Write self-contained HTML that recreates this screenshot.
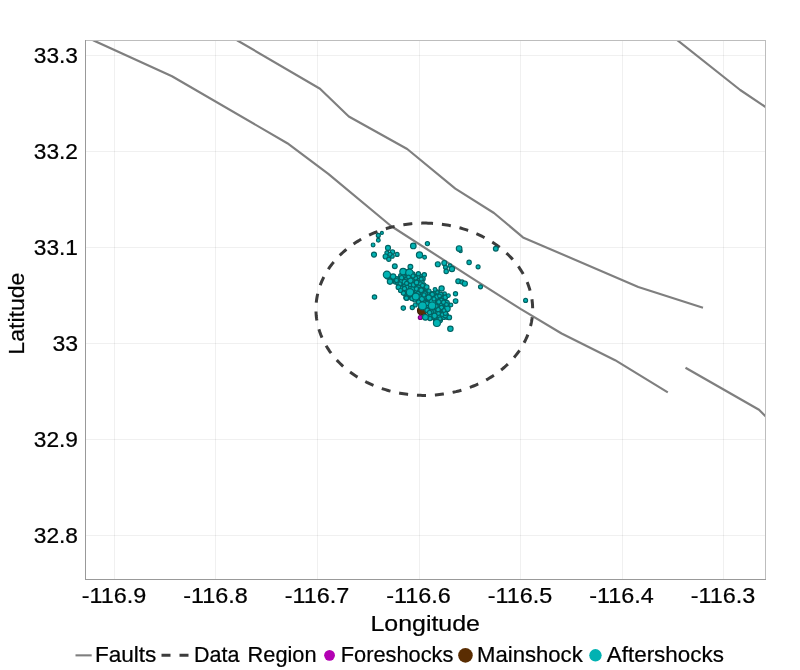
<!DOCTYPE html>
<html><head><meta charset="utf-8"><title>Map</title>
<style>
html,body{margin:0;padding:0;background:#fff;}
body{width:800px;height:670px;overflow:hidden;font-family:"Liberation Sans",sans-serif;}
svg{display:block;}
text{font-family:"Liberation Sans",sans-serif;fill:#000;stroke:#000;stroke-width:0.22px;}
.tick text{font-size:21.2px;}
.ttl text{font-size:21.2px;}
.leg text{font-size:21.2px;}
</style></head><body>
<svg width="800" height="670" viewBox="0 0 800 670" style="will-change:transform;opacity:0.999">
<rect width="800" height="670" fill="#fff"/>
<defs><clipPath id="pc"><rect x="85" y="40" width="681" height="540"/></clipPath></defs>
<g stroke="#000" stroke-opacity="0.06" stroke-width="1" shape-rendering="crispEdges"><line x1="114.5" y1="40" x2="114.5" y2="579" /><line x1="215.5" y1="40" x2="215.5" y2="579" /><line x1="317.5" y1="40" x2="317.5" y2="579" /><line x1="419.0" y1="40" x2="419.0" y2="579" /><line x1="520.5" y1="40" x2="520.5" y2="579" /><line x1="622.0" y1="40" x2="622.0" y2="579" /><line x1="723.5" y1="40" x2="723.5" y2="579" /><line x1="85" y1="55.5" x2="766" y2="55.5" /><line x1="85" y1="151.5" x2="766" y2="151.5" /><line x1="85" y1="247.5" x2="766" y2="247.5" /><line x1="85" y1="343.5" x2="766" y2="343.5" /><line x1="85" y1="439.5" x2="766" y2="439.5" /><line x1="85" y1="535.5" x2="766" y2="535.5" /></g>
<g clip-path="url(#pc)">
<g fill="none" stroke="#7f7f7f" stroke-width="2.15" stroke-linejoin="round"><polyline points="93.0,40.2 172.0,76.3 287.3,143.2 328.3,173.8 391.0,226.0 470.0,276.9 520.5,308.8 561.6,333.5 615.1,360.2 667.8,392.4"/><polyline points="237.0,40.2 320.0,88.8 348.8,116.5 407.2,149.0 455.3,188.6 494.0,213.0 523.0,237.4 638.3,287.0 703.0,307.8"/><polyline points="675.5,38.7 740.2,90.0 766.0,107.3"/><polyline points="685.5,367.7 759.0,409.7 766.0,416.8"/></g>
<path d="M424.30 223.10 L426.19 223.11 L428.08 223.15 L429.97 223.22 L431.86 223.31 L433.74 223.43 L435.63 223.57 L437.50 223.74 L439.38 223.94 L441.25 224.16 L443.11 224.41 L444.97 224.68 L446.83 224.98 L448.67 225.31 L450.51 225.66 L452.34 226.04 L454.17 226.44 L455.98 226.86 L457.78 227.32 L459.58 227.79 L461.36 228.30 L463.13 228.82 L464.89 229.37 L466.64 229.95 L468.37 230.55 L470.09 231.17 L471.80 231.82 L473.49 232.49 L475.17 233.18 L476.83 233.90 L478.48 234.64 L480.10 235.41 L481.72 236.19 L483.31 237.00 L484.89 237.83 L486.45 238.68 L487.99 239.55 L489.51 240.45 L491.01 241.36 L492.49 242.30 L493.95 243.26 L495.38 244.23 L496.80 245.23 L498.19 246.24 L499.57 247.28 L500.92 248.33 L502.24 249.41 L503.54 250.50 L504.82 251.60 L506.07 252.73 L507.30 253.87 L508.50 255.03 L509.68 256.21 L510.83 257.40 L511.96 258.61 L513.06 259.84 L514.13 261.08 L515.17 262.33 L516.19 263.60 L517.17 264.88 L518.13 266.18 L519.07 267.48 L519.97 268.81 L520.84 270.14 L521.68 271.48 L522.50 272.84 L523.28 274.21 L524.04 275.59 L524.76 276.98 L525.45 278.38 L526.12 279.78 L526.75 281.20 L527.35 282.63 L527.92 284.06 L528.45 285.50 L528.96 286.95 L529.43 288.41 L529.87 289.87 L530.28 291.34 L530.66 292.81 L531.00 294.29 L531.32 295.77 L531.60 297.26 L531.84 298.75 L532.06 300.24 L532.24 301.74 L532.39 303.24 L532.50 304.74 L532.58 306.24 L532.63 307.75 L532.65 309.25 L532.63 310.75 L532.58 312.26 L532.50 313.76 L532.39 315.26 L532.24 316.76 L532.06 318.26 L531.84 319.75 L531.60 321.24 L531.32 322.73 L531.00 324.21 L530.66 325.69 L530.28 327.16 L529.87 328.63 L529.43 330.09 L528.96 331.55 L528.45 333.00 L527.92 334.44 L527.35 335.87 L526.75 337.30 L526.12 338.72 L525.45 340.12 L524.76 341.52 L524.04 342.91 L523.28 344.29 L522.50 345.66 L521.68 347.02 L520.84 348.36 L519.97 349.69 L519.07 351.02 L518.13 352.32 L517.17 353.62 L516.19 354.90 L515.17 356.17 L514.13 357.42 L513.06 358.66 L511.96 359.89 L510.83 361.10 L509.68 362.29 L508.50 363.47 L507.30 364.63 L506.07 365.77 L504.82 366.90 L503.54 368.00 L502.24 369.09 L500.92 370.17 L499.57 371.22 L498.19 372.26 L496.80 373.27 L495.38 374.27 L493.95 375.24 L492.49 376.20 L491.01 377.14 L489.51 378.05 L487.99 378.95 L486.45 379.82 L484.89 380.67 L483.31 381.50 L481.72 382.31 L480.10 383.09 L478.48 383.86 L476.83 384.60 L475.17 385.32 L473.49 386.01 L471.80 386.68 L470.09 387.33 L468.37 387.95 L466.64 388.55 L464.89 389.13 L463.13 389.68 L461.36 390.20 L459.58 390.71 L457.78 391.18 L455.98 391.64 L454.17 392.06 L452.34 392.46 L450.51 392.84 L448.67 393.19 L446.83 393.52 L444.97 393.82 L443.11 394.09 L441.25 394.34 L439.38 394.56 L437.50 394.76 L435.63 394.93 L433.74 395.07 L431.86 395.19 L429.97 395.28 L428.08 395.35 L426.19 395.39 L424.30 395.40 L422.41 395.39 L420.52 395.35 L418.63 395.28 L416.74 395.19 L414.86 395.07 L412.97 394.93 L411.10 394.76 L409.22 394.56 L407.35 394.34 L405.49 394.09 L403.63 393.82 L401.77 393.52 L399.93 393.19 L398.09 392.84 L396.26 392.46 L394.43 392.06 L392.62 391.64 L390.82 391.18 L389.02 390.71 L387.24 390.20 L385.47 389.68 L383.71 389.13 L381.96 388.55 L380.23 387.95 L378.51 387.33 L376.80 386.68 L375.11 386.01 L373.43 385.32 L371.77 384.60 L370.12 383.86 L368.50 383.09 L366.88 382.31 L365.29 381.50 L363.71 380.67 L362.15 379.82 L360.61 378.95 L359.09 378.05 L357.59 377.14 L356.11 376.20 L354.65 375.24 L353.22 374.27 L351.80 373.27 L350.41 372.26 L349.03 371.22 L347.68 370.17 L346.36 369.09 L345.06 368.00 L343.78 366.90 L342.53 365.77 L341.30 364.63 L340.10 363.47 L338.92 362.29 L337.77 361.10 L336.64 359.89 L335.54 358.66 L334.47 357.42 L333.43 356.17 L332.41 354.90 L331.43 353.62 L330.47 352.33 L329.53 351.02 L328.63 349.69 L327.76 348.36 L326.92 347.02 L326.10 345.66 L325.32 344.29 L324.56 342.91 L323.84 341.52 L323.15 340.12 L322.48 338.72 L321.85 337.30 L321.25 335.87 L320.68 334.44 L320.15 333.00 L319.64 331.55 L319.17 330.09 L318.73 328.63 L318.32 327.16 L317.94 325.69 L317.60 324.21 L317.28 322.73 L317.00 321.24 L316.76 319.75 L316.54 318.26 L316.36 316.76 L316.21 315.26 L316.10 313.76 L316.02 312.26 L315.97 310.75 L315.95 309.25 L315.97 307.75 L316.02 306.24 L316.10 304.74 L316.21 303.24 L316.36 301.74 L316.54 300.24 L316.76 298.75 L317.00 297.26 L317.28 295.77 L317.60 294.29 L317.94 292.81 L318.32 291.34 L318.73 289.87 L319.17 288.41 L319.64 286.95 L320.15 285.50 L320.68 284.06 L321.25 282.63 L321.85 281.20 L322.48 279.78 L323.15 278.38 L323.84 276.98 L324.56 275.59 L325.32 274.21 L326.10 272.84 L326.92 271.48 L327.76 270.14 L328.63 268.81 L329.53 267.48 L330.47 266.18 L331.43 264.88 L332.41 263.60 L333.43 262.33 L334.47 261.08 L335.54 259.84 L336.64 258.61 L337.77 257.40 L338.92 256.21 L340.10 255.03 L341.30 253.87 L342.53 252.73 L343.78 251.60 L345.06 250.50 L346.36 249.41 L347.68 248.33 L349.03 247.28 L350.41 246.24 L351.80 245.23 L353.22 244.23 L354.65 243.26 L356.11 242.30 L357.59 241.36 L359.09 240.45 L360.61 239.55 L362.15 238.68 L363.71 237.83 L365.29 237.00 L366.88 236.19 L368.50 235.41 L370.12 234.64 L371.77 233.90 L373.43 233.18 L375.11 232.49 L376.80 231.82 L378.51 231.17 L380.23 230.55 L381.96 229.95 L383.71 229.37 L385.47 228.82 L387.24 228.30 L389.02 227.79 L390.82 227.32 L392.62 226.86 L394.43 226.44 L396.26 226.04 L398.09 225.66 L399.93 225.31 L401.77 224.98 L403.63 224.68 L405.49 224.41 L407.35 224.16 L409.22 223.94 L411.10 223.74 L412.97 223.57 L414.86 223.43 L416.74 223.31 L418.63 223.22 L420.52 223.15 L422.41 223.11 L424.30 223.10 " fill="none" stroke="#3c3c3c" stroke-width="3" stroke-dasharray="9.05 8.898" stroke-dashoffset="0.3"/>
<circle cx="422.2" cy="310.5" r="4.7" fill="#5c2c06" stroke="#3a1b02" stroke-width="1.15"/>
<circle cx="420.3" cy="317.5" r="2.0" fill="#c000c0" stroke="#7a007a" stroke-width="1.15"/>
<circle cx="410.4" cy="296.8" r="2.1" fill="#00b3b3" stroke="#006363" stroke-width="1.15"/>
<circle cx="421.2" cy="293.7" r="2.2" fill="#00b3b3" stroke="#006363" stroke-width="1.15"/>
<circle cx="436.5" cy="314.2" r="2.0" fill="#00b3b3" stroke="#006363" stroke-width="1.15"/>
<circle cx="406.0" cy="285.6" r="2.1" fill="#00b3b3" stroke="#006363" stroke-width="1.15"/>
<circle cx="420.7" cy="299.3" r="2.4" fill="#00b3b3" stroke="#006363" stroke-width="1.15"/>
<circle cx="432.1" cy="313.6" r="2.5" fill="#00b3b3" stroke="#006363" stroke-width="1.15"/>
<circle cx="428.8" cy="308.4" r="2.9" fill="#00b3b3" stroke="#006363" stroke-width="1.15"/>
<circle cx="439.8" cy="314.8" r="2.2" fill="#00b3b3" stroke="#006363" stroke-width="1.15"/>
<circle cx="436.4" cy="307.8" r="2.1" fill="#00b3b3" stroke="#006363" stroke-width="1.15"/>
<circle cx="447.2" cy="317.1" r="2.4" fill="#00b3b3" stroke="#006363" stroke-width="1.15"/>
<circle cx="393.0" cy="279.4" r="2.3" fill="#00b3b3" stroke="#006363" stroke-width="1.15"/>
<circle cx="433.6" cy="298.9" r="2.2" fill="#00b3b3" stroke="#006363" stroke-width="1.15"/>
<circle cx="423.6" cy="297.2" r="2.9" fill="#00b3b3" stroke="#006363" stroke-width="1.15"/>
<circle cx="403.6" cy="274.0" r="2.9" fill="#00b3b3" stroke="#006363" stroke-width="1.15"/>
<circle cx="442.4" cy="297.5" r="2.3" fill="#00b3b3" stroke="#006363" stroke-width="1.15"/>
<circle cx="387.9" cy="276.4" r="2.7" fill="#00b3b3" stroke="#006363" stroke-width="1.15"/>
<circle cx="419.5" cy="290.8" r="2.1" fill="#00b3b3" stroke="#006363" stroke-width="1.15"/>
<circle cx="417.1" cy="278.8" r="2.4" fill="#00b3b3" stroke="#006363" stroke-width="1.15"/>
<circle cx="439.6" cy="320.0" r="2.9" fill="#00b3b3" stroke="#006363" stroke-width="1.15"/>
<circle cx="417.6" cy="293.5" r="2.9" fill="#00b3b3" stroke="#006363" stroke-width="1.15"/>
<circle cx="434.4" cy="293.5" r="2.2" fill="#00b3b3" stroke="#006363" stroke-width="1.15"/>
<circle cx="416.0" cy="284.8" r="2.2" fill="#00b3b3" stroke="#006363" stroke-width="1.15"/>
<circle cx="400.8" cy="275.7" r="2.2" fill="#00b3b3" stroke="#006363" stroke-width="1.15"/>
<circle cx="409.3" cy="284.5" r="2.7" fill="#00b3b3" stroke="#006363" stroke-width="1.15"/>
<circle cx="427.8" cy="293.8" r="2.5" fill="#00b3b3" stroke="#006363" stroke-width="1.15"/>
<circle cx="419.2" cy="280.0" r="2.2" fill="#00b3b3" stroke="#006363" stroke-width="1.15"/>
<circle cx="430.7" cy="311.5" r="2.7" fill="#00b3b3" stroke="#006363" stroke-width="1.15"/>
<circle cx="404.1" cy="276.5" r="2.1" fill="#00b3b3" stroke="#006363" stroke-width="1.15"/>
<circle cx="420.1" cy="303.0" r="2.0" fill="#00b3b3" stroke="#006363" stroke-width="1.15"/>
<circle cx="402.9" cy="285.2" r="2.3" fill="#00b3b3" stroke="#006363" stroke-width="1.15"/>
<circle cx="431.1" cy="305.3" r="2.4" fill="#00b3b3" stroke="#006363" stroke-width="1.15"/>
<circle cx="402.4" cy="279.2" r="2.5" fill="#00b3b3" stroke="#006363" stroke-width="1.15"/>
<circle cx="390.6" cy="279.0" r="2.1" fill="#00b3b3" stroke="#006363" stroke-width="1.15"/>
<circle cx="433.8" cy="305.1" r="2.3" fill="#00b3b3" stroke="#006363" stroke-width="1.15"/>
<circle cx="395.5" cy="281.9" r="2.2" fill="#00b3b3" stroke="#006363" stroke-width="1.15"/>
<circle cx="407.9" cy="271.5" r="2.1" fill="#00b3b3" stroke="#006363" stroke-width="1.15"/>
<circle cx="407.0" cy="273.5" r="2.5" fill="#00b3b3" stroke="#006363" stroke-width="1.15"/>
<circle cx="433.0" cy="296.5" r="2.2" fill="#00b3b3" stroke="#006363" stroke-width="1.15"/>
<circle cx="409.7" cy="291.6" r="2.7" fill="#00b3b3" stroke="#006363" stroke-width="1.15"/>
<circle cx="421.0" cy="276.7" r="2.3" fill="#00b3b3" stroke="#006363" stroke-width="1.15"/>
<circle cx="430.6" cy="317.2" r="2.7" fill="#00b3b3" stroke="#006363" stroke-width="1.15"/>
<circle cx="404.9" cy="287.4" r="2.9" fill="#00b3b3" stroke="#006363" stroke-width="1.15"/>
<circle cx="419.9" cy="285.5" r="2.7" fill="#00b3b3" stroke="#006363" stroke-width="1.15"/>
<circle cx="447.7" cy="306.3" r="2.1" fill="#00b3b3" stroke="#006363" stroke-width="1.15"/>
<circle cx="412.2" cy="290.2" r="2.9" fill="#00b3b3" stroke="#006363" stroke-width="1.15"/>
<circle cx="399.5" cy="278.9" r="2.5" fill="#00b3b3" stroke="#006363" stroke-width="1.15"/>
<circle cx="401.3" cy="281.8" r="2.9" fill="#00b3b3" stroke="#006363" stroke-width="1.15"/>
<circle cx="423.7" cy="287.5" r="2.4" fill="#00b3b3" stroke="#006363" stroke-width="1.15"/>
<circle cx="424.0" cy="305.6" r="2.1" fill="#00b3b3" stroke="#006363" stroke-width="1.15"/>
<circle cx="443.0" cy="302.5" r="2.7" fill="#00b3b3" stroke="#006363" stroke-width="1.15"/>
<circle cx="441.9" cy="313.5" r="2.1" fill="#00b3b3" stroke="#006363" stroke-width="1.15"/>
<circle cx="408.0" cy="276.2" r="2.9" fill="#00b3b3" stroke="#006363" stroke-width="1.15"/>
<circle cx="412.8" cy="297.5" r="2.9" fill="#00b3b3" stroke="#006363" stroke-width="1.15"/>
<circle cx="411.2" cy="293.6" r="2.4" fill="#00b3b3" stroke="#006363" stroke-width="1.15"/>
<circle cx="428.3" cy="299.7" r="2.0" fill="#00b3b3" stroke="#006363" stroke-width="1.15"/>
<circle cx="438.6" cy="302.2" r="2.9" fill="#00b3b3" stroke="#006363" stroke-width="1.15"/>
<circle cx="411.7" cy="275.9" r="2.0" fill="#00b3b3" stroke="#006363" stroke-width="1.15"/>
<circle cx="391.9" cy="277.1" r="2.2" fill="#00b3b3" stroke="#006363" stroke-width="1.15"/>
<circle cx="414.9" cy="288.9" r="2.9" fill="#00b3b3" stroke="#006363" stroke-width="1.15"/>
<circle cx="441.1" cy="310.8" r="2.9" fill="#00b3b3" stroke="#006363" stroke-width="1.15"/>
<circle cx="440.6" cy="316.4" r="2.3" fill="#00b3b3" stroke="#006363" stroke-width="1.15"/>
<circle cx="414.1" cy="294.3" r="2.4" fill="#00b3b3" stroke="#006363" stroke-width="1.15"/>
<circle cx="417.1" cy="296.4" r="2.1" fill="#00b3b3" stroke="#006363" stroke-width="1.15"/>
<circle cx="436.3" cy="296.8" r="2.7" fill="#00b3b3" stroke="#006363" stroke-width="1.15"/>
<circle cx="443.7" cy="317.5" r="2.0" fill="#00b3b3" stroke="#006363" stroke-width="1.15"/>
<circle cx="444.6" cy="300.5" r="2.2" fill="#00b3b3" stroke="#006363" stroke-width="1.15"/>
<circle cx="423.8" cy="299.9" r="2.2" fill="#00b3b3" stroke="#006363" stroke-width="1.15"/>
<circle cx="414.5" cy="281.9" r="2.9" fill="#00b3b3" stroke="#006363" stroke-width="1.15"/>
<circle cx="444.2" cy="305.1" r="2.1" fill="#00b3b3" stroke="#006363" stroke-width="1.15"/>
<circle cx="432.4" cy="302.9" r="2.5" fill="#00b3b3" stroke="#006363" stroke-width="1.15"/>
<circle cx="432.1" cy="307.8" r="2.7" fill="#00b3b3" stroke="#006363" stroke-width="1.15"/>
<circle cx="399.3" cy="284.7" r="2.5" fill="#00b3b3" stroke="#006363" stroke-width="1.15"/>
<circle cx="422.5" cy="278.8" r="2.7" fill="#00b3b3" stroke="#006363" stroke-width="1.15"/>
<circle cx="440.6" cy="305.3" r="2.3" fill="#00b3b3" stroke="#006363" stroke-width="1.15"/>
<circle cx="410.4" cy="282.7" r="2.3" fill="#00b3b3" stroke="#006363" stroke-width="1.15"/>
<circle cx="422.7" cy="302.5" r="2.0" fill="#00b3b3" stroke="#006363" stroke-width="1.15"/>
<circle cx="436.2" cy="319.8" r="2.9" fill="#00b3b3" stroke="#006363" stroke-width="1.15"/>
<circle cx="446.5" cy="303.3" r="2.9" fill="#00b3b3" stroke="#006363" stroke-width="1.15"/>
<circle cx="428.1" cy="305.2" r="2.4" fill="#00b3b3" stroke="#006363" stroke-width="1.15"/>
<circle cx="440.7" cy="300.3" r="2.5" fill="#00b3b3" stroke="#006363" stroke-width="1.15"/>
<circle cx="417.2" cy="282.8" r="2.7" fill="#00b3b3" stroke="#006363" stroke-width="1.15"/>
<circle cx="423.4" cy="290.2" r="2.5" fill="#00b3b3" stroke="#006363" stroke-width="1.15"/>
<circle cx="437.2" cy="323.1" r="2.3" fill="#00b3b3" stroke="#006363" stroke-width="1.15"/>
<circle cx="437.2" cy="305.2" r="2.3" fill="#00b3b3" stroke="#006363" stroke-width="1.15"/>
<circle cx="437.5" cy="300.0" r="2.2" fill="#00b3b3" stroke="#006363" stroke-width="1.15"/>
<circle cx="406.7" cy="297.4" r="2.9" fill="#00b3b3" stroke="#006363" stroke-width="1.15"/>
<circle cx="417.8" cy="299.2" r="2.3" fill="#00b3b3" stroke="#006363" stroke-width="1.15"/>
<circle cx="426.7" cy="290.4" r="2.3" fill="#00b3b3" stroke="#006363" stroke-width="1.15"/>
<circle cx="406.5" cy="279.3" r="2.0" fill="#00b3b3" stroke="#006363" stroke-width="1.15"/>
<circle cx="431.8" cy="293.8" r="2.2" fill="#00b3b3" stroke="#006363" stroke-width="1.15"/>
<circle cx="423.3" cy="285.6" r="2.9" fill="#00b3b3" stroke="#006363" stroke-width="1.15"/>
<circle cx="419.2" cy="296.2" r="2.1" fill="#00b3b3" stroke="#006363" stroke-width="1.15"/>
<circle cx="407.5" cy="287.4" r="2.4" fill="#00b3b3" stroke="#006363" stroke-width="1.15"/>
<circle cx="412.9" cy="274.0" r="2.1" fill="#00b3b3" stroke="#006363" stroke-width="1.15"/>
<circle cx="445.9" cy="307.7" r="2.5" fill="#00b3b3" stroke="#006363" stroke-width="1.15"/>
<circle cx="430.0" cy="296.4" r="2.0" fill="#00b3b3" stroke="#006363" stroke-width="1.15"/>
<circle cx="436.8" cy="302.3" r="2.1" fill="#00b3b3" stroke="#006363" stroke-width="1.15"/>
<circle cx="431.7" cy="299.1" r="2.7" fill="#00b3b3" stroke="#006363" stroke-width="1.15"/>
<circle cx="429.3" cy="302.3" r="2.0" fill="#00b3b3" stroke="#006363" stroke-width="1.15"/>
<circle cx="425.5" cy="297.2" r="2.0" fill="#00b3b3" stroke="#006363" stroke-width="1.15"/>
<circle cx="437.3" cy="293.2" r="2.3" fill="#00b3b3" stroke="#006363" stroke-width="1.15"/>
<circle cx="396.0" cy="279.3" r="2.7" fill="#00b3b3" stroke="#006363" stroke-width="1.15"/>
<circle cx="404.8" cy="293.6" r="2.0" fill="#00b3b3" stroke="#006363" stroke-width="1.15"/>
<circle cx="408.4" cy="283.1" r="2.0" fill="#00b3b3" stroke="#006363" stroke-width="1.15"/>
<circle cx="439.7" cy="296.2" r="2.1" fill="#00b3b3" stroke="#006363" stroke-width="1.15"/>
<circle cx="421.5" cy="288.3" r="2.3" fill="#00b3b3" stroke="#006363" stroke-width="1.15"/>
<circle cx="413.0" cy="278.7" r="2.3" fill="#00b3b3" stroke="#006363" stroke-width="1.15"/>
<circle cx="424.6" cy="293.2" r="2.9" fill="#00b3b3" stroke="#006363" stroke-width="1.15"/>
<circle cx="440.7" cy="294.4" r="2.3" fill="#00b3b3" stroke="#006363" stroke-width="1.15"/>
<circle cx="433.6" cy="311.6" r="2.2" fill="#00b3b3" stroke="#006363" stroke-width="1.15"/>
<circle cx="421.4" cy="282.4" r="2.7" fill="#00b3b3" stroke="#006363" stroke-width="1.15"/>
<circle cx="413.1" cy="285.0" r="2.4" fill="#00b3b3" stroke="#006363" stroke-width="1.15"/>
<circle cx="438.4" cy="317.2" r="2.5" fill="#00b3b3" stroke="#006363" stroke-width="1.15"/>
<circle cx="418.4" cy="287.4" r="2.4" fill="#00b3b3" stroke="#006363" stroke-width="1.15"/>
<circle cx="409.0" cy="274.3" r="2.7" fill="#00b3b3" stroke="#006363" stroke-width="1.15"/>
<circle cx="445.8" cy="296.4" r="2.0" fill="#00b3b3" stroke="#006363" stroke-width="1.15"/>
<circle cx="443.7" cy="310.8" r="2.7" fill="#00b3b3" stroke="#006363" stroke-width="1.15"/>
<circle cx="416.6" cy="290.8" r="2.2" fill="#00b3b3" stroke="#006363" stroke-width="1.15"/>
<circle cx="414.1" cy="276.1" r="2.1" fill="#00b3b3" stroke="#006363" stroke-width="1.15"/>
<circle cx="425.8" cy="303.0" r="2.5" fill="#00b3b3" stroke="#006363" stroke-width="1.15"/>
<circle cx="439.6" cy="308.2" r="2.4" fill="#00b3b3" stroke="#006363" stroke-width="1.15"/>
<circle cx="442.6" cy="308.1" r="2.4" fill="#00b3b3" stroke="#006363" stroke-width="1.15"/>
<circle cx="403.3" cy="291.2" r="2.4" fill="#00b3b3" stroke="#006363" stroke-width="1.15"/>
<circle cx="437.8" cy="311.9" r="2.7" fill="#00b3b3" stroke="#006363" stroke-width="1.15"/>
<circle cx="407.0" cy="291.3" r="2.3" fill="#00b3b3" stroke="#006363" stroke-width="1.15"/>
<circle cx="417.8" cy="276.6" r="2.1" fill="#00b3b3" stroke="#006363" stroke-width="1.15"/>
<circle cx="410.8" cy="288.5" r="2.3" fill="#00b3b3" stroke="#006363" stroke-width="1.15"/>
<circle cx="414.9" cy="299.7" r="2.3" fill="#00b3b3" stroke="#006363" stroke-width="1.15"/>
<circle cx="397.5" cy="282.0" r="2.4" fill="#00b3b3" stroke="#006363" stroke-width="1.15"/>
<circle cx="445.5" cy="315.0" r="2.9" fill="#00b3b3" stroke="#006363" stroke-width="1.15"/>
<circle cx="409.5" cy="279.4" r="2.4" fill="#00b3b3" stroke="#006363" stroke-width="1.15"/>
<circle cx="404.6" cy="281.8" r="2.5" fill="#00b3b3" stroke="#006363" stroke-width="1.15"/>
<circle cx="401.7" cy="288.1" r="2.1" fill="#00b3b3" stroke="#006363" stroke-width="1.15"/>
<circle cx="434.7" cy="316.9" r="2.7" fill="#00b3b3" stroke="#006363" stroke-width="1.15"/>
<circle cx="408.6" cy="294.0" r="2.2" fill="#00b3b3" stroke="#006363" stroke-width="1.15"/>
<circle cx="381.9" cy="232.9" r="1.5" fill="#00b3b3" stroke="#006363" stroke-width="1.15"/>
<circle cx="378.3" cy="235.4" r="2.0" fill="#00b3b3" stroke="#006363" stroke-width="1.15"/>
<circle cx="378.3" cy="240.2" r="1.9" fill="#00b3b3" stroke="#006363" stroke-width="1.15"/>
<circle cx="373.1" cy="244.9" r="1.9" fill="#00b3b3" stroke="#006363" stroke-width="1.15"/>
<circle cx="374.0" cy="254.6" r="2.5" fill="#00b3b3" stroke="#006363" stroke-width="1.15"/>
<circle cx="388.0" cy="247.9" r="2.5" fill="#00b3b3" stroke="#006363" stroke-width="1.15"/>
<circle cx="392.5" cy="251.9" r="2.2" fill="#00b3b3" stroke="#006363" stroke-width="1.15"/>
<circle cx="386.9" cy="252.8" r="2.0" fill="#00b3b3" stroke="#006363" stroke-width="1.15"/>
<circle cx="397.1" cy="254.4" r="2.0" fill="#00b3b3" stroke="#006363" stroke-width="1.15"/>
<circle cx="392.2" cy="256.2" r="2.0" fill="#00b3b3" stroke="#006363" stroke-width="1.15"/>
<circle cx="385.6" cy="256.5" r="2.5" fill="#00b3b3" stroke="#006363" stroke-width="1.15"/>
<circle cx="388.8" cy="259.2" r="2.1" fill="#00b3b3" stroke="#006363" stroke-width="1.15"/>
<circle cx="390.0" cy="254.3" r="2.0" fill="#00b3b3" stroke="#006363" stroke-width="1.15"/>
<circle cx="413.3" cy="245.9" r="2.8" fill="#00b3b3" stroke="#006363" stroke-width="1.15"/>
<circle cx="427.4" cy="243.6" r="2.1" fill="#00b3b3" stroke="#006363" stroke-width="1.15"/>
<circle cx="419.5" cy="255.0" r="3.1" fill="#00b3b3" stroke="#006363" stroke-width="1.15"/>
<circle cx="424.6" cy="257.3" r="1.9" fill="#00b3b3" stroke="#006363" stroke-width="1.15"/>
<circle cx="394.8" cy="266.3" r="2.4" fill="#00b3b3" stroke="#006363" stroke-width="1.15"/>
<circle cx="437.8" cy="264.2" r="2.5" fill="#00b3b3" stroke="#006363" stroke-width="1.15"/>
<circle cx="444.3" cy="263.0" r="2.5" fill="#00b3b3" stroke="#006363" stroke-width="1.15"/>
<circle cx="445.5" cy="267.3" r="2.0" fill="#00b3b3" stroke="#006363" stroke-width="1.15"/>
<circle cx="450.0" cy="265.7" r="1.9" fill="#00b3b3" stroke="#006363" stroke-width="1.15"/>
<circle cx="451.9" cy="269.0" r="2.7" fill="#00b3b3" stroke="#006363" stroke-width="1.15"/>
<circle cx="446.2" cy="271.4" r="2.2" fill="#00b3b3" stroke="#006363" stroke-width="1.15"/>
<circle cx="460.6" cy="251.0" r="1.6" fill="#00b3b3" stroke="#006363" stroke-width="1.15"/>
<circle cx="459.1" cy="248.5" r="2.8" fill="#00b3b3" stroke="#006363" stroke-width="1.15"/>
<circle cx="469.1" cy="262.4" r="2.2" fill="#00b3b3" stroke="#006363" stroke-width="1.15"/>
<circle cx="478.1" cy="266.8" r="2.0" fill="#00b3b3" stroke="#006363" stroke-width="1.15"/>
<circle cx="495.8" cy="248.7" r="2.4" fill="#00b3b3" stroke="#006363" stroke-width="1.15"/>
<circle cx="458.2" cy="281.3" r="2.4" fill="#00b3b3" stroke="#006363" stroke-width="1.15"/>
<circle cx="462.0" cy="282.0" r="2.1" fill="#00b3b3" stroke="#006363" stroke-width="1.15"/>
<circle cx="464.8" cy="283.6" r="2.6" fill="#00b3b3" stroke="#006363" stroke-width="1.15"/>
<circle cx="480.5" cy="286.8" r="2.0" fill="#00b3b3" stroke="#006363" stroke-width="1.15"/>
<circle cx="525.6" cy="300.4" r="2.0" fill="#00b3b3" stroke="#006363" stroke-width="1.15"/>
<circle cx="455.5" cy="293.8" r="2.1" fill="#00b3b3" stroke="#006363" stroke-width="1.15"/>
<circle cx="455.6" cy="301.0" r="2.3" fill="#00b3b3" stroke="#006363" stroke-width="1.15"/>
<circle cx="374.5" cy="297.0" r="2.2" fill="#00b3b3" stroke="#006363" stroke-width="1.15"/>
<circle cx="403.3" cy="308.1" r="2.2" fill="#00b3b3" stroke="#006363" stroke-width="1.15"/>
<circle cx="412.3" cy="307.5" r="2.1" fill="#00b3b3" stroke="#006363" stroke-width="1.15"/>
<circle cx="450.4" cy="328.8" r="2.7" fill="#00b3b3" stroke="#006363" stroke-width="1.15"/>
<circle cx="410.4" cy="266.8" r="2.4" fill="#00b3b3" stroke="#006363" stroke-width="1.15"/>
<circle cx="403.1" cy="271.6" r="3.3" fill="#00b3b3" stroke="#006363" stroke-width="1.15"/>
<circle cx="409.4" cy="272.8" r="3.7" fill="#00b3b3" stroke="#006363" stroke-width="1.15"/>
<circle cx="386.9" cy="274.8" r="3.6" fill="#00b3b3" stroke="#006363" stroke-width="1.15"/>
<circle cx="393.1" cy="276.6" r="2.7" fill="#00b3b3" stroke="#006363" stroke-width="1.15"/>
<circle cx="390.0" cy="281.6" r="2.7" fill="#00b3b3" stroke="#006363" stroke-width="1.15"/>
<circle cx="418.4" cy="273.8" r="2.1" fill="#00b3b3" stroke="#006363" stroke-width="1.15"/>
<circle cx="424.3" cy="274.8" r="2.2" fill="#00b3b3" stroke="#006363" stroke-width="1.15"/>
<circle cx="401.6" cy="277.7" r="2.2" fill="#00b3b3" stroke="#006363" stroke-width="1.15"/>
<circle cx="410.4" cy="280.6" r="2.7" fill="#00b3b3" stroke="#006363" stroke-width="1.15"/>
<circle cx="415.6" cy="278.1" r="2.0" fill="#00b3b3" stroke="#006363" stroke-width="1.15"/>
<circle cx="416.6" cy="282.5" r="2.3" fill="#00b3b3" stroke="#006363" stroke-width="1.15"/>
<circle cx="421.2" cy="279.1" r="2.0" fill="#00b3b3" stroke="#006363" stroke-width="1.15"/>
<circle cx="420.6" cy="283.8" r="2.0" fill="#00b3b3" stroke="#006363" stroke-width="1.15"/>
<circle cx="406.6" cy="283.4" r="2.0" fill="#00b3b3" stroke="#006363" stroke-width="1.15"/>
<circle cx="400.0" cy="284.0" r="2.0" fill="#00b3b3" stroke="#006363" stroke-width="1.15"/>
<circle cx="398.4" cy="287.2" r="2.3" fill="#00b3b3" stroke="#006363" stroke-width="1.15"/>
<circle cx="410.0" cy="285.0" r="1.7" fill="#00b3b3" stroke="#006363" stroke-width="1.15"/>
<circle cx="426.7" cy="287.0" r="2.3" fill="#00b3b3" stroke="#006363" stroke-width="1.15"/>
<circle cx="416.6" cy="288.8" r="2.2" fill="#00b3b3" stroke="#006363" stroke-width="1.15"/>
<circle cx="420.6" cy="289.7" r="2.5" fill="#00b3b3" stroke="#006363" stroke-width="1.15"/>
<circle cx="403.4" cy="293.1" r="2.2" fill="#00b3b3" stroke="#006363" stroke-width="1.15"/>
<circle cx="406.4" cy="298.1" r="2.2" fill="#00b3b3" stroke="#006363" stroke-width="1.15"/>
<circle cx="425.0" cy="293.8" r="2.2" fill="#00b3b3" stroke="#006363" stroke-width="1.15"/>
<circle cx="396.5" cy="280.5" r="2.0" fill="#00b3b3" stroke="#006363" stroke-width="1.15"/>
<circle cx="404.5" cy="288.5" r="2.1" fill="#00b3b3" stroke="#006363" stroke-width="1.15"/>
<circle cx="412.5" cy="289.0" r="2.0" fill="#00b3b3" stroke="#006363" stroke-width="1.15"/>
<circle cx="413.0" cy="276.0" r="2.0" fill="#00b3b3" stroke="#006363" stroke-width="1.15"/>
<circle cx="400.5" cy="290.5" r="2.0" fill="#00b3b3" stroke="#006363" stroke-width="1.15"/>
<circle cx="408.5" cy="277.0" r="1.9" fill="#00b3b3" stroke="#006363" stroke-width="1.15"/>
<circle cx="422.5" cy="285.5" r="2.0" fill="#00b3b3" stroke="#006363" stroke-width="1.15"/>
<circle cx="418.0" cy="293.5" r="2.1" fill="#00b3b3" stroke="#006363" stroke-width="1.15"/>
<circle cx="412.0" cy="298.5" r="2.1" fill="#00b3b3" stroke="#006363" stroke-width="1.15"/>
<circle cx="421.2" cy="290.3" r="2.3" fill="#00b3b3" stroke="#006363" stroke-width="1.15"/>
<circle cx="441.6" cy="288.5" r="2.6" fill="#00b3b3" stroke="#006363" stroke-width="1.15"/>
<circle cx="437.5" cy="291.6" r="1.7" fill="#00b3b3" stroke="#006363" stroke-width="1.15"/>
<circle cx="432.2" cy="294.4" r="2.2" fill="#00b3b3" stroke="#006363" stroke-width="1.15"/>
<circle cx="436.9" cy="296.9" r="2.2" fill="#00b3b3" stroke="#006363" stroke-width="1.15"/>
<circle cx="428.6" cy="297.9" r="2.5" fill="#00b3b3" stroke="#006363" stroke-width="1.15"/>
<circle cx="421.9" cy="299.0" r="2.5" fill="#00b3b3" stroke="#006363" stroke-width="1.15"/>
<circle cx="432.5" cy="301.2" r="3.2" fill="#00b3b3" stroke="#006363" stroke-width="1.15"/>
<circle cx="445.3" cy="297.2" r="2.3" fill="#00b3b3" stroke="#006363" stroke-width="1.15"/>
<circle cx="448.4" cy="295.6" r="1.9" fill="#00b3b3" stroke="#006363" stroke-width="1.15"/>
<circle cx="443.6" cy="302.2" r="2.1" fill="#00b3b3" stroke="#006363" stroke-width="1.15"/>
<circle cx="438.8" cy="301.9" r="2.2" fill="#00b3b3" stroke="#006363" stroke-width="1.15"/>
<circle cx="441.5" cy="307.5" r="2.2" fill="#00b3b3" stroke="#006363" stroke-width="1.15"/>
<circle cx="447.3" cy="308.7" r="2.9" fill="#00b3b3" stroke="#006363" stroke-width="1.15"/>
<circle cx="450.9" cy="305.0" r="1.9" fill="#00b3b3" stroke="#006363" stroke-width="1.15"/>
<circle cx="415.3" cy="305.0" r="2.0" fill="#00b3b3" stroke="#006363" stroke-width="1.15"/>
<circle cx="431.2" cy="311.9" r="2.2" fill="#00b3b3" stroke="#006363" stroke-width="1.15"/>
<circle cx="438.1" cy="309.7" r="2.2" fill="#00b3b3" stroke="#006363" stroke-width="1.15"/>
<circle cx="442.3" cy="314.6" r="1.9" fill="#00b3b3" stroke="#006363" stroke-width="1.15"/>
<circle cx="445.4" cy="313.3" r="2.1" fill="#00b3b3" stroke="#006363" stroke-width="1.15"/>
<circle cx="440.0" cy="318.8" r="2.0" fill="#00b3b3" stroke="#006363" stroke-width="1.15"/>
<circle cx="449.3" cy="317.4" r="2.3" fill="#00b3b3" stroke="#006363" stroke-width="1.15"/>
<circle cx="434.6" cy="315.8" r="2.7" fill="#00b3b3" stroke="#006363" stroke-width="1.15"/>
<circle cx="437.3" cy="292.3" r="1.7" fill="#00b3b3" stroke="#006363" stroke-width="1.15"/>
<circle cx="444.7" cy="293.5" r="1.7" fill="#00b3b3" stroke="#006363" stroke-width="1.15"/>
<circle cx="427.0" cy="303.5" r="2.2" fill="#00b3b3" stroke="#006363" stroke-width="1.15"/>
<circle cx="424.0" cy="295.0" r="2.0" fill="#00b3b3" stroke="#006363" stroke-width="1.15"/>
<circle cx="429.0" cy="291.0" r="2.0" fill="#00b3b3" stroke="#006363" stroke-width="1.15"/>
<circle cx="435.0" cy="289.5" r="1.9" fill="#00b3b3" stroke="#006363" stroke-width="1.15"/>
<circle cx="418.5" cy="302.0" r="2.1" fill="#00b3b3" stroke="#006363" stroke-width="1.15"/>
<circle cx="436.0" cy="306.0" r="2.1" fill="#00b3b3" stroke="#006363" stroke-width="1.15"/>
<circle cx="439.5" cy="296.0" r="1.9" fill="#00b3b3" stroke="#006363" stroke-width="1.15"/>
<circle cx="446.5" cy="304.5" r="1.9" fill="#00b3b3" stroke="#006363" stroke-width="1.15"/>
<circle cx="430.0" cy="318.5" r="2.1" fill="#00b3b3" stroke="#006363" stroke-width="1.15"/>
<circle cx="444.0" cy="310.5" r="1.9" fill="#00b3b3" stroke="#006363" stroke-width="1.15"/>
<circle cx="434.0" cy="299.0" r="2.0" fill="#00b3b3" stroke="#006363" stroke-width="1.15"/>
<circle cx="438.5" cy="313.5" r="1.9" fill="#00b3b3" stroke="#006363" stroke-width="1.15"/>
<circle cx="410.0" cy="292.3" r="3.7" fill="#00b3b3" stroke="#006363" stroke-width="1.15"/>
<circle cx="415.8" cy="296.6" r="3.5" fill="#00b3b3" stroke="#006363" stroke-width="1.15"/>
<circle cx="428.7" cy="297.6" r="2.7" fill="#00b3b3" stroke="#006363" stroke-width="1.15"/>
<circle cx="427.2" cy="310.2" r="2.3" fill="#00b3b3" stroke="#006363" stroke-width="1.15"/>
<circle cx="429.6" cy="312.6" r="2.2" fill="#00b3b3" stroke="#006363" stroke-width="1.15"/>
<circle cx="422.5" cy="305.9" r="3.9" fill="#00b3b3" stroke="#006363" stroke-width="1.15"/>
<circle cx="432.1" cy="305.7" r="3.7" fill="#00b3b3" stroke="#006363" stroke-width="1.15"/>
<circle cx="425.4" cy="317.3" r="2.9" fill="#00b3b3" stroke="#006363" stroke-width="1.15"/>
<circle cx="436.9" cy="323.0" r="3.5" fill="#00b3b3" stroke="#006363" stroke-width="1.15"/>
</g>
<g shape-rendering="crispEdges" stroke-width="1">
<line x1="85" y1="40.5" x2="766" y2="40.5" stroke="#bdbdbd"/>
<line x1="765.5" y1="40" x2="765.5" y2="580" stroke="#bdbdbd"/>
<line x1="85.5" y1="40" x2="85.5" y2="580" stroke="#999"/>
<line x1="85" y1="579.5" x2="766" y2="579.5" stroke="#999"/>
</g>
<g class="tick"><text x="81.70" y="603.00" textLength="64.60" lengthAdjust="spacingAndGlyphs">-116.9</text><text x="183.20" y="603.00" textLength="64.60" lengthAdjust="spacingAndGlyphs">-116.8</text><text x="284.70" y="603.00" textLength="64.60" lengthAdjust="spacingAndGlyphs">-116.7</text><text x="386.20" y="603.00" textLength="64.60" lengthAdjust="spacingAndGlyphs">-116.6</text><text x="487.70" y="603.00" textLength="64.60" lengthAdjust="spacingAndGlyphs">-116.5</text><text x="589.20" y="603.00" textLength="64.60" lengthAdjust="spacingAndGlyphs">-116.4</text><text x="690.70" y="603.00" textLength="64.60" lengthAdjust="spacingAndGlyphs">-116.3</text><text x="33.80" y="62.90" textLength="44.20" lengthAdjust="spacingAndGlyphs">33.3</text><text x="33.80" y="158.90" textLength="44.20" lengthAdjust="spacingAndGlyphs">33.2</text><text x="33.80" y="254.90" textLength="44.20" lengthAdjust="spacingAndGlyphs">33.1</text><text x="52.50" y="350.90" textLength="25.60" lengthAdjust="spacingAndGlyphs">33</text><text x="33.80" y="446.90" textLength="44.20" lengthAdjust="spacingAndGlyphs">32.9</text><text x="33.80" y="542.90" textLength="44.20" lengthAdjust="spacingAndGlyphs">32.8</text></g>
<g class="ttl"><text id="lon" x="370.40" y="631.20" textLength="109.60" lengthAdjust="spacingAndGlyphs">Longitude</text><text transform="translate(0,313.25) rotate(-90)" x="-41.40" y="23.70" textLength="82.10" lengthAdjust="spacingAndGlyphs">Latitude</text></g>
<g class="leg">
<text id="faults" x="94.90" y="661.50" textLength="61.40" lengthAdjust="spacingAndGlyphs">Faults</text><text id="data" x="194.00" y="661.50" textLength="45.40" lengthAdjust="spacingAndGlyphs">Data</text><text id="region" x="247.60" y="661.50" textLength="69.00" lengthAdjust="spacingAndGlyphs">Region</text><text id="fore" x="340.80" y="661.50" textLength="112.60" lengthAdjust="spacingAndGlyphs">Foreshocks</text><text id="mainl" x="477.10" y="661.50" textLength="105.60" lengthAdjust="spacingAndGlyphs">Mainshock</text><text id="after" x="606.80" y="661.50" textLength="117.05" lengthAdjust="spacingAndGlyphs">Aftershocks</text>
<line x1="75.5" y1="655.35" x2="91.7" y2="655.35" stroke="#7f7f7f" stroke-width="2.1"/>
<line x1="161.5" y1="655.35" x2="188.5" y2="655.35" stroke="#3c3c3c" stroke-width="3" stroke-dasharray="9 9"/>
<circle cx="329.55" cy="655.35" r="5.4" fill="#b300b3"/>
<circle cx="465.45" cy="655.35" r="7.3" fill="#5a2d02"/>
<circle cx="595.45" cy="655.3" r="6.2" fill="#00b2b2"/>
</g>
</svg>
</body></html>
